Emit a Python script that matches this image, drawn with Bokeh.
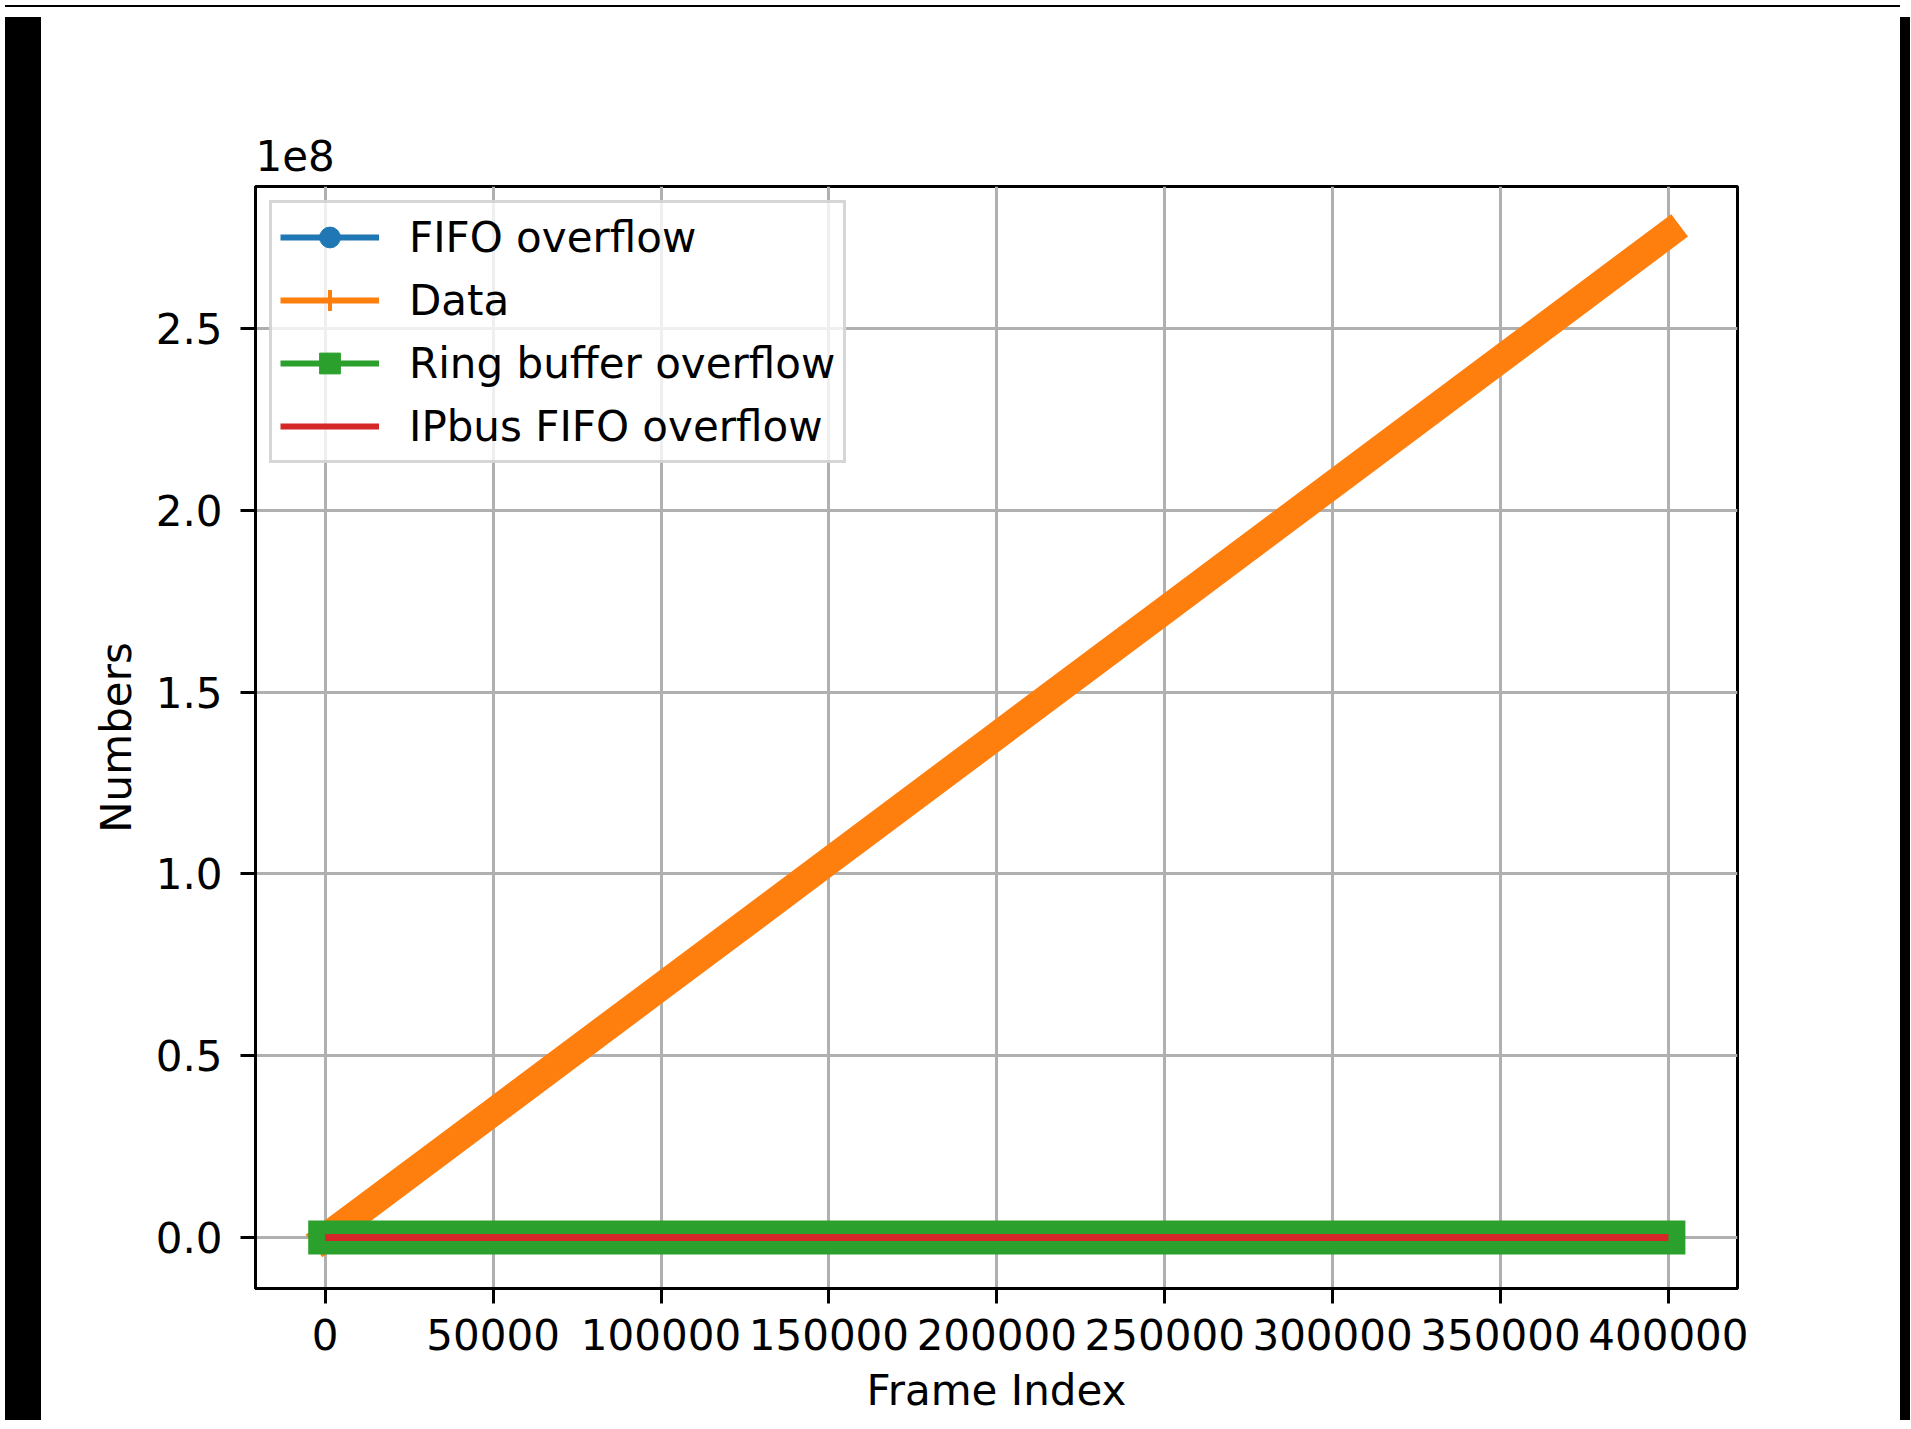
from bokeh.plotting import figure
from bokeh.models import FixedTicker, Legend, LegendItem, Div, Range1d
from bokeh.layouts import row, column
from bokeh.embed import file_html
from bokeh.resources import INLINE

# ---- data ----
frame_index = [0, 50000, 100000, 150000, 200000, 250000, 300000, 350000, 400000]
data_counts = [0.0, 0.345e8, 0.69e8, 1.035e8, 1.38e8, 1.725e8, 2.07e8, 2.415e8, 2.76e8]
fifo_overflow = [0, 0, 0, 0, 0, 0, 0, 0, 0]
ring_buffer_overflow = [0, 0, 0, 0, 0, 0, 0, 0, 0]
ipbus_fifo_overflow = [0, 0, 0, 0, 0, 0, 0, 0, 0]

series_names = ["FIFO overflow", "Data", "Ring buffer overflow", "IPbus FIFO overflow"]
series_colors = ["#1f77b4", "#ff7f0e", "#2ca02c", "#d62728"]

x_ticks = [0, 50000, 100000, 150000, 200000, 250000, 300000, 350000, 400000]
x_tick_labels = ["0", "50000", "100000", "150000", "200000", "250000", "300000", "350000", "400000"]
y_ticks = [0, 0.5e8, 1.0e8, 1.5e8, 2.0e8, 2.5e8]
y_tick_labels = ["0.0", "0.5", "1.0", "1.5", "2.0", "2.5"]
offset_text = "1e8"

FONT = "DejaVu Sans"
FS = "42px"

p = figure(
    frame_width=1482, frame_height=1102,
    min_border_left=209, min_border_right=158, min_border_top=174, min_border_bottom=127,
    x_range=Range1d(-20760, 420580), y_range=Range1d(-0.14e8, 2.89e8),
    output_backend="svg", toolbar_location=None,
    background_fill_color="white", border_fill_color="white",
)
p.outline_line_color = "black"
p.outline_line_width = 3

p.title.text = offset_text
p.title.align = "left"
p.title.offset = 0
p.title.standoff = 31
p.title.text_font = FONT
p.title.text_font_size = FS
p.title.text_font_style = "normal"
p.title.text_color = "black"

xt = FixedTicker(ticks=x_ticks)
yt = FixedTicker(ticks=y_ticks)
p.xaxis[0].ticker = xt
p.xgrid[0].ticker = xt
p.yaxis[0].ticker = yt
p.ygrid[0].ticker = yt
p.xaxis.major_label_overrides = dict(zip(x_ticks, x_tick_labels))
p.yaxis.major_label_overrides = dict(zip(y_ticks, y_tick_labels))

for ax in (p.xaxis, p.yaxis):
    ax.axis_line_color = "black"
    ax.axis_line_width = 3
    ax.major_tick_out = 15
    ax.major_tick_in = 0
    ax.major_tick_line_width = 3
    ax.major_tick_line_color = "black"
    ax.minor_tick_out = 0
    ax.minor_tick_in = 0
    ax.major_label_text_font = FONT
    ax.major_label_text_font_size = FS
    ax.major_label_text_color = "black"
    ax.axis_label_text_font = FONT
    ax.axis_label_text_font_size = FS
    ax.axis_label_text_font_style = "normal"
    ax.axis_label_text_color = "black"

p.xaxis.axis_label = "Frame Index"
p.yaxis.axis_label = "Numbers"
p.xaxis.major_label_standoff = 15
p.xaxis.axis_label_standoff = 13
p.yaxis.major_label_standoff = 18
p.yaxis.axis_label_standoff = 12

for g in (p.xgrid, p.ygrid):
    g.grid_line_color = "#b0b0b0"
    g.grid_line_width = 3

# ---- plotted series ----
p.line(frame_index, fifo_overflow, line_color=series_colors[0], line_width=6)
p.scatter(frame_index, fifo_overflow, marker="circle", size=25,
          fill_color=series_colors[0], line_color=series_colors[0])
p.line(frame_index, data_counts, line_color=series_colors[1], line_width=28, line_cap="square")
p.line(frame_index, ring_buffer_overflow, line_color=series_colors[2], line_width=34, line_cap="square")
p.line(frame_index, ipbus_fifo_overflow, line_color=series_colors[3], line_width=7)

# ---- legend-only renderers (one point far outside the visible range) ----
off_x = [-1.0e7]
off_y = [-1.0e10]
leg_items = []
l0 = p.line(off_x, off_y, line_color=series_colors[0], line_width=6)
m0 = p.scatter(off_x, off_y, marker="circle", size=25, fill_color=series_colors[0], line_color=series_colors[0])
leg_items.append(LegendItem(label=series_names[0], renderers=[l0, m0]))
l1 = p.line(off_x, off_y, line_color=series_colors[1], line_width=6)
m1 = p.scatter(off_x, off_y, marker="cross", size=25, line_color=series_colors[1], line_width=4)
leg_items.append(LegendItem(label=series_names[1], renderers=[l1, m1]))
l2 = p.line(off_x, off_y, line_color=series_colors[2], line_width=6)
m2 = p.scatter(off_x, off_y, marker="square", size=25, fill_color=series_colors[2], line_color=series_colors[2])
leg_items.append(LegendItem(label=series_names[2], renderers=[l2, m2]))
l3 = p.line(off_x, off_y, line_color=series_colors[3], line_width=6)
leg_items.append(LegendItem(label=series_names[3], renderers=[l3]))

legend = Legend(
    items=leg_items, location="top_left",
    label_text_font=FONT, label_text_font_size=FS, label_text_color="black",
    glyph_width=99, glyph_height=52, label_height=40, spacing=11,
    padding=8, margin=14, label_standoff=30,
    border_line_color="#cccccc", border_line_width=3, border_line_alpha=0.8,
    background_fill_color="white", background_fill_alpha=0.8,
)
p.add_layout(legend)

top_bar = Div(text="", width=1895, height=2, styles={"background-color": "black"})
left_bar = Div(text="", width=36, height=1403, styles={"background-color": "black"})
right_bar = Div(text="", width=10, height=1403, styles={"background-color": "black"})
layout = column(top_bar, row(left_bar, p, right_bar))

open("out.html", "w").write(file_html(layout, INLINE))
